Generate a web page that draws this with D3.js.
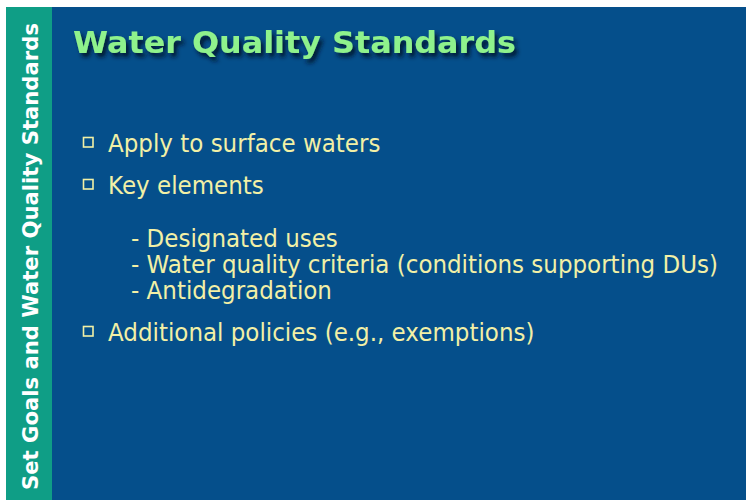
<!DOCTYPE html>
<html>
<head>
<meta charset="utf-8">
<script src="https://d3js.org/d3.v7.min.js"></script>
<style>
  body { margin: 0; background: #fff; }
  svg { display: block; }
</style>
</head>
<body>
<div id="slide"></div>
<script>
// slide content
const sideLabel = "Set Goals and Water Quality Standards";
const title = "Water Quality Standards";
const bullets = ["Apply to surface waters", "Key elements", "Additional policies (e.g., exemptions)"];
const keyElements = ["- Designated uses", "- Water quality criteria (conditions supporting DUs)", "- Antidegradation"];

const W = 746, H = 500;
const svg = d3.select("#slide").append("svg")
  .attr("width", W)
  .attr("height", H);

// drop shadow for the title
const defs = svg.append("defs");
const f = defs.append("filter").attr("id", "shadow")
  .attr("x", "-5%").attr("y", "-20%").attr("width", "110%").attr("height", "160%");
f.append("feDropShadow")
  .attr("dx", 3).attr("dy", 4).attr("stdDeviation", 2.2)
  .attr("flood-color", "#00152b").attr("flood-opacity", 0.95);

// backgrounds
svg.append("rect").attr("x", 6).attr("y", 7).attr("width", 46).attr("height", H - 7).attr("fill", "#0f9e86");
svg.append("rect").attr("x", 52).attr("y", 7).attr("width", W - 52).attr("height", H - 7).attr("fill", "#054f8b");

// vertical side label
svg.append("text")
  .attr("transform", "translate(37.5,490) rotate(-90)")
  .attr("font-family", "DejaVu Sans, Verdana, sans-serif")
  .attr("font-weight", "bold")
  .attr("font-size", 21.5)
  .attr("fill", "#ffffff")
  .attr("textLength", 467)
  .attr("lengthAdjust", "spacingAndGlyphs")
  .text(sideLabel);

// title
svg.append("text")
  .attr("x", 73).attr("y", 53)
  .attr("font-family", "DejaVu Sans, Verdana, sans-serif")
  .attr("font-weight", "bold")
  .attr("font-size", 30)
  .attr("fill", "#8ff28c")
  .attr("filter", "url(#shadow)")
  .attr("textLength", 443)
  .attr("lengthAdjust", "spacingAndGlyphs")
  .text(title);

// line layout: main bullets and the indented sub list
const rows = [];
let y = 152;
bullets.forEach((b, i) => {
  rows.push({ text: b, level: 0, y: y });
  if (i === 1) {
    y += 53;
    keyElements.forEach((k, j) => {
      rows.push({ text: k, level: 1, y: y });
      y += (j < keyElements.length - 1) ? 26 : 42;
    });
  } else {
    y += 42;
  }
});

const x0 = 108, x1 = 131;

const g = svg.append("g")
  .attr("font-family", "DejaVu Sans, Verdana, sans-serif")
  .attr("font-size", 24)
  .attr("fill", "#f2f0a6");

const rowText = g.selectAll("text.row")
  .data(rows)
  .join("text")
  .attr("class", "row")
  .attr("x", d => d.level ? x1 : x0)
  .attr("y", d => d.y)
  .text(d => d.text);

// the original face is narrower than DejaVu: squeeze every line by the same factor
const longest = rowText.nodes().reduce((a, n) => n.getComputedTextLength() > a.getComputedTextLength() ? n : a);
const squeeze = (718 - x1) / longest.getComputedTextLength();
rowText.each(function () {
  d3.select(this)
    .attr("textLength", this.getComputedTextLength() * squeeze)
    .attr("lengthAdjust", "spacingAndGlyphs");
});

// hollow square bullets
g.selectAll("rect.box")
  .data(rows.filter(d => d.level === 0))
  .join("rect")
  .attr("class", "box")
  .attr("x", 83.5)
  .attr("y", d => d.y - 14.5)
  .attr("width", 9.5)
  .attr("height", 9.5)
  .attr("fill", "none")
  .attr("stroke", "#f2f0a6")
  .attr("stroke-width", 1.6);
</script>
</body>
</html>
